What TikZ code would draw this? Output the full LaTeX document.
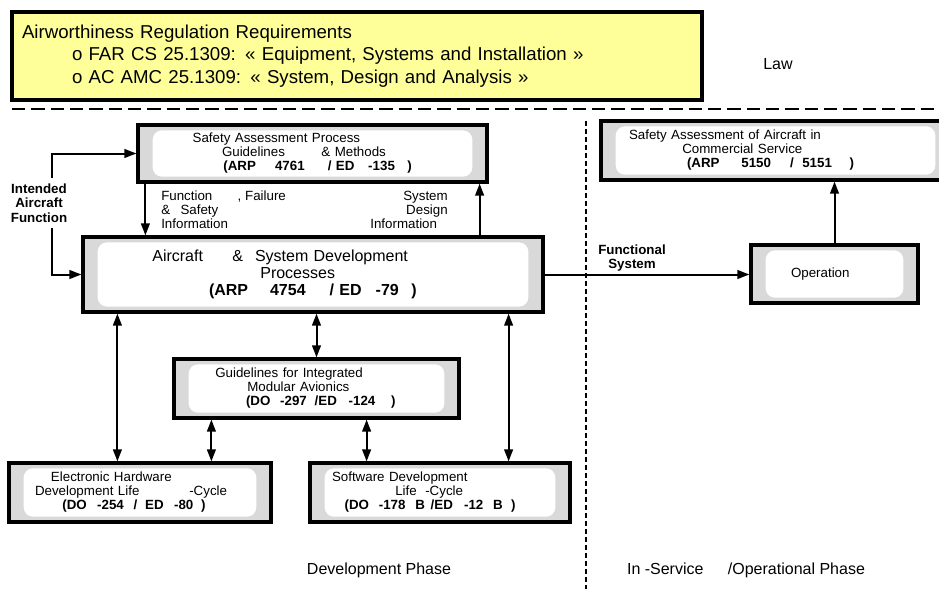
\documentclass[tikz,border=0pt]{standalone}
\usepackage{fontspec}
\setmainfont{Liberation Sans}
\usetikzlibrary{arrows.meta,calc}

\definecolor{boxgray}{HTML}{D9D9D9}
\definecolor{lawyellow}{HTML}{FFFF99}

\begin{document}
\begin{tikzpicture}[
  x=0.75pt,y=-0.75pt,
  every node/.style={inner sep=0pt},
  procbox/.style={draw,line width=2.4pt,fill=boxgray,align=left,
    font=\fontsize{10}{10.5}\selectfont,
    path picture={\fill[white,rounded corners=7pt]
      ([xshift=11pt,yshift=-4pt]path picture bounding box.north west) rectangle
      ([xshift=-11pt,yshift=4pt]path picture bounding box.south east);}},
  note/.style={font=\fontsize{10}{10.5}\selectfont},
  boldnote/.style={font=\bfseries\fontsize{10}{11}\selectfont,align=center},
  phase/.style={font=\fontsize{12}{14}\selectfont},
  arrow/.style={-{Triangle[length=9pt,width=6.5pt]},line width=1.5pt},
  dblarrow/.style={{Triangle[length=9pt,width=6.5pt]}-{Triangle[length=9pt,width=6.5pt]},line width=1.5pt},
  sepline/.style={line width=2.2pt,dash pattern=on 10pt off 4.5pt},
  phaseline/.style={line width=1.5pt,dash pattern=on 4pt off 2pt}
]
\useasboundingbox (0,0) rectangle (939,589);
\clip (0,0) rectangle (939,589);

\node[draw,line width=2.4pt,fill=lawyellow,minimum width=517.5pt,minimum height=66pt,
  text width=502.5pt,align=left,font=\fontsize{14}{17}\selectfont] (reg) at (357,56)
  {Airworthiness Regulation Requirements\\
   \hspace*{37.5pt}o FAR CS 25.1309: « Equipment, Systems and Installation »\\
   \hspace*{37.5pt}o AC AMC 25.1309: « System, Design and Analysis »};
\node[phase] (law) at (778,64) {Law};

\draw[sepline] (12,109) -- (939,109);
\draw[phaseline] (586,121) -- (586,589);

\node[procbox,minimum width=261.75pt,text width=261.75pt,minimum height=42.75pt] (sap) at (312.5,153.5)
  {\hspace*{41pt}Safety Assessment Process\\
   \hspace*{63pt}Guidelines\hspace{24pt} \& Methods\\
   \hspace*{64pt}\textbf{(ARP\hspace{11pt} 4761\hspace{14pt} / ED\hspace{7pt} -135\hspace{6pt} )}};
\node[procbox,minimum width=345pt,text width=345pt,minimum height=56.25pt,
  font=\fontsize{12}{12.75}\selectfont] (acft) at (313,274.5)
  {\hspace*{52pt}Aircraft\hspace{18pt} \&\hspace{5pt} System Development\\
   \hspace*{133pt}Processes\\
   \hspace*{94.5pt}\textbf{(ARP\hspace{12.5pt} 4754\hspace{14pt} / ED\hspace{6.5pt} -79\hspace{5.5pt} )}};
\node[procbox,minimum width=213.75pt,text width=213.75pt,minimum height=44.25pt] (ima) at (316.5,388.5)
  {\hspace*{31pt}Guidelines for Integrated\\
   \hspace*{55pt}Modular Avionics\\
   \hspace*{54pt}\textbf{(DO\hspace{4pt} -297\hspace{2.5pt} /ED\hspace{5.5pt} -124\hspace{8.5pt} )}};
\node[procbox,minimum width=196.5pt,text width=196.5pt,minimum height=44.25pt] (ehw) at (140,492.5)
  {\hspace*{31.5pt}Electronic Hardware\\
   \hspace*{19.5pt}Development Life\hspace{34pt} -Cycle\\
   \hspace*{40pt}\textbf{(DO\hspace{4.5pt} -254\hspace{4pt} /\hspace{2.5pt} ED\hspace{4.5pt} -80\hspace{2.5pt} )}};
\node[procbox,minimum width=195pt,text width=195pt,minimum height=44.25pt] (swd) at (440,492.5)
  {\hspace*{16.5pt}Software Development\\
   \hspace*{64pt}Life\hspace{3pt} -Cycle\\
   \hspace*{26pt}\textbf{(DO\hspace{4pt} -178\hspace{4pt} B\hspace{1pt} /ED\hspace{5pt} -12\hspace{4pt} B\hspace{3pt} )}};
\node[procbox,minimum width=261.75pt,text width=261.75pt,minimum height=44.25pt] (saa) at (775.5,150.5)
  {\hspace*{21pt}Safety Assessment of Aircraft in\\
   \hspace*{61pt}Commercial Service\\
   \hspace*{64.5pt}\textbf{(ARP\hspace{13pt} 5150\hspace{11pt} /\hspace{3pt} 5151\hspace{10pt} )}};
\node[procbox,minimum width=125.25pt,text width=125.25pt,minimum height=43.5pt] (oper) at (834.5,274)
  {\hspace*{30pt}Operation};

\node[boldnote,inner ysep=4pt] (ifunc) at (39,203) {Intended\\Aircraft\\Function};
\node[note,anchor=north west,align=left] (finfo) at (161,191)
  {Function\hspace{19pt}, Failure\\\&\hspace{5pt} Safety\\Information};
\node[note,anchor=north east,align=right] (sinfo) at (448,191)
  {System\\Design\\Information\hspace{8pt}\mbox{}};
\node[boldnote] (fsys) at (632,258) {Functional\\System};

\node[phase] (devph) at (379,570) {Development Phase};
\node[phase] (opph) at (746,570) {In -Service\hspace{15pt} /Operational Phase};

\draw[arrow] ([xshift=9.75pt]ifunc.north) |- (sap.west);
\draw[arrow] ([xshift=9.75pt]ifunc.south) |- (acft.west);
\draw[arrow] ([xshift=6.75pt]sap.south west) -- ([xshift=6.75pt]sap.south west |- acft.north);
\draw[arrow] ([xshift=-6.75pt]sap.south east |- acft.north) -- ([xshift=-6.75pt]sap.south east);
\draw[arrow] (acft.east) -- (acft.east -| oper.west);
\draw[arrow] (oper.north) -- (oper.north |- saa.south);

\draw[dblarrow] ([xshift=27pt]acft.south west) -- ([xshift=27pt]acft.south west |- ehw.north);
\draw[dblarrow] (ima.north |- acft.south) -- (ima.north);
\draw[dblarrow] ([xshift=-27pt]acft.south east) -- ([xshift=-27pt]acft.south east |- swd.north);
\draw[dblarrow] ([xshift=29.25pt]ima.south west) -- ([xshift=29.25pt]ima.south west |- ehw.north);
\draw[dblarrow] ([xshift=-70.5pt]ima.south east) -- ([xshift=-70.5pt]ima.south east |- swd.north);
\end{tikzpicture}
\end{document}
